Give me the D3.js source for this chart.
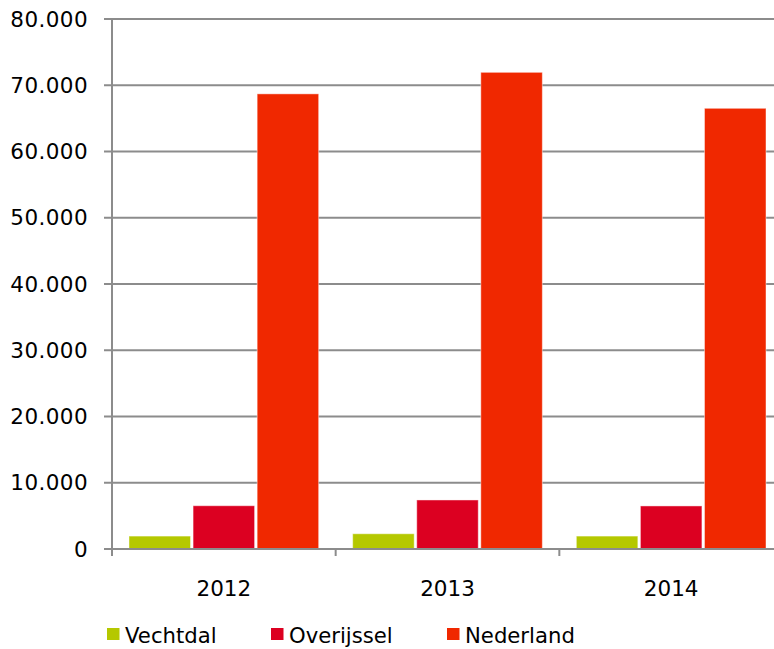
<!DOCTYPE html>
<html>
<head>
<meta charset="utf-8">
<script src="https://cdn.jsdelivr.net/npm/d3@7"></script>
<style>
  html, body { margin: 0; padding: 0; background: #fff; }
  svg { display: block; font-family: "DejaVu Sans", Verdana, sans-serif; }
</style>
</head>
<body>
<svg id="chart" width="774" height="649"></svg>
<script>
const categories = ["2012", "2013", "2014"];
const seriesNames = ["Vechtdal", "Overijssel", "Nederland"];
const vechtdal = [1950, 2300, 1950];
const overijssel = [6530, 7400, 6500];
const nederland = [68700, 71950, 66520];
const yTicks = [0, 10000, 20000, 30000, 40000, 50000, 60000, 70000, 80000];
const colors = ["#b5c800", "#dc0021", "#f02800"];

const seriesValues = [vechtdal, overijssel, nederland];
const data = categories.map((c, i) => ({
  cat: c,
  vals: seriesNames.map((s, j) => ({ name: s, value: seriesValues[j][i] }))
}));

const svg = d3.select("#chart");
const plotLeft = 112, plotRight = 783, plotTop = 19, plotBottom = 549;

const x0 = d3.scaleBand().domain(categories).range([plotLeft, plotRight]).padding(0);
const x1 = d3.scaleBand().domain(seriesNames)
  .range([17, x0.bandwidth() - 17]).paddingInner(0.04).paddingOuter(0);
const y = d3.scaleLinear().domain([0, 80000]).range([plotBottom, plotTop]);

const fmt = v => d3.format(",")(v).replace(/,/g, ".");
const gridColor = "#8c8c8c";

// gridlines
svg.append("g").selectAll("line").data(yTicks).join("line")
  .attr("x1", plotLeft - 8).attr("x2", plotRight)
  .attr("y1", d => y(d)).attr("y2", d => y(d))
  .attr("stroke", gridColor).attr("stroke-width", 2);

// y labels
svg.append("g").selectAll("text").data(yTicks).join("text")
  .attr("x", 88).attr("y", d => y(d))
  .attr("dy", "0.36em")
  .attr("text-anchor", "end")
  .attr("font-size", 21.5).attr("letter-spacing", 0.4).attr("fill", "#000")
  .text(d => fmt(d));

// bars
const groups = svg.append("g").selectAll("g").data(data).join("g")
  .attr("transform", d => `translate(${x0(d.cat)},0)`);
groups.selectAll("rect").data(d => d.vals).join("rect")
  .attr("x", d => x1(d.name))
  .attr("width", x1.bandwidth())
  .attr("y", d => y(d.value))
  .attr("height", d => y(0) - y(d.value))
  .attr("fill", (d, i) => colors[i])
  .attr("stroke", "#fff").attr("stroke-opacity", 0.45).attr("stroke-width", 1);

// axes lines
svg.append("line").attr("x1", plotLeft).attr("x2", plotLeft)
  .attr("y1", plotTop).attr("y2", plotBottom + 7)
  .attr("stroke", gridColor).attr("stroke-width", 2);
svg.append("line").attr("x1", plotLeft - 8).attr("x2", plotRight)
  .attr("y1", plotBottom).attr("y2", plotBottom)
  .attr("stroke", gridColor).attr("stroke-width", 2);
// category ticks
const tickPos = categories.map(c => x0(c)).concat([plotRight]);
svg.append("g").selectAll("line").data(tickPos).join("line")
  .attr("x1", d => d).attr("x2", d => d)
  .attr("y1", plotBottom).attr("y2", plotBottom + 7)
  .attr("stroke", gridColor).attr("stroke-width", 2);

// x labels
svg.append("g").selectAll("text").data(categories).join("text")
  .attr("x", d => x0(d) + x0.bandwidth() / 2)
  .attr("y", 596)
  .attr("text-anchor", "middle")
  .attr("font-size", 21.5).attr("fill", "#000")
  .text(d => d);

// legend
const legendX = [107, 271, 447];
const leg = svg.append("g").selectAll("g").data(seriesNames).join("g")
  .attr("transform", (d, i) => `translate(${legendX[i]},0)`);
leg.append("rect").attr("x", 0).attr("y", 628).attr("width", 12.5).attr("height", 12)
  .attr("fill", (d, i) => colors[i]);
leg.append("text").attr("x", 18).attr("y", 643)
  .attr("font-size", 21.2).attr("fill", "#000")
  .text(d => d);
</script>
</body>
</html>
